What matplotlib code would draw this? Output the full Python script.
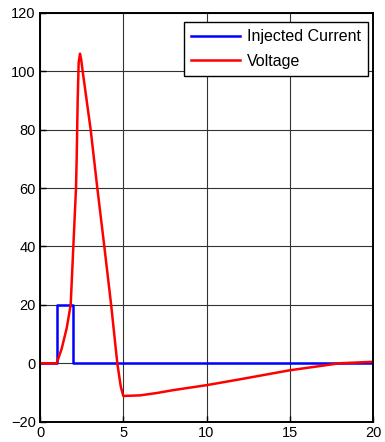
import matplotlib
matplotlib.use("Agg")
import matplotlib.pyplot as plt

plt.rcParams['font.family'] = ['Liberation Sans', 'DejaVu Sans']

# Injected current (step)
current_t = [0, 1, 1, 2, 2, 20]
current_v = [0, 0, 20, 20, 0, 0]

# Voltage trace
voltage_t = [0, 1.0, 1.3, 1.6, 1.84, 2.0, 2.16, 2.2, 2.26, 2.32, 2.4, 2.47, 2.56, 3.04, 3.44, 3.86, 4.27, 4.64, 4.85, 5.0, 6, 7, 8, 10, 12, 15, 17, 18, 20]
voltage_v = [0, 0, 5, 12, 20, 40, 60, 70, 90, 103, 106, 104, 100, 80, 60, 40, 20, 0, -8, -11.2, -11, -10.2, -9.2, -7.5, -5.5, -2.4, -0.8, 0, 0.5]

fig = plt.figure(figsize=(3.85, 4.42), dpi=100)
ax = fig.add_axes([0.104, 0.046, 0.865, 0.925])

ax.plot(current_t, current_v, color="#0000ff", lw=1.8, label="Injected Current")
ax.plot(voltage_t, voltage_v, color="#ff0000", lw=1.8, label="Voltage")

ax.set_xlim(0, 20)
ax.set_ylim(-20, 120)
ax.set_xticks([0, 5, 10, 15, 20])
ax.set_yticks([-20, 0, 20, 40, 60, 80, 100, 120])
ax.grid(True, color="#333333", lw=0.8)
ax.tick_params(direction="in", labelsize=10.5, length=4, width=1, pad=3)
for s in ax.spines.values():
    s.set_linewidth(1.4)

leg = ax.legend(loc="upper right", bbox_to_anchor=(0.985, 0.977), fontsize=11.5,
                fancybox=False, framealpha=1, edgecolor="black", handlelength=3.1,
                borderaxespad=0, labelspacing=0.6, borderpad=0.45, handletextpad=0.4)
leg.get_frame().set_linewidth(1.0)

fig.savefig("out.png", dpi=100)
